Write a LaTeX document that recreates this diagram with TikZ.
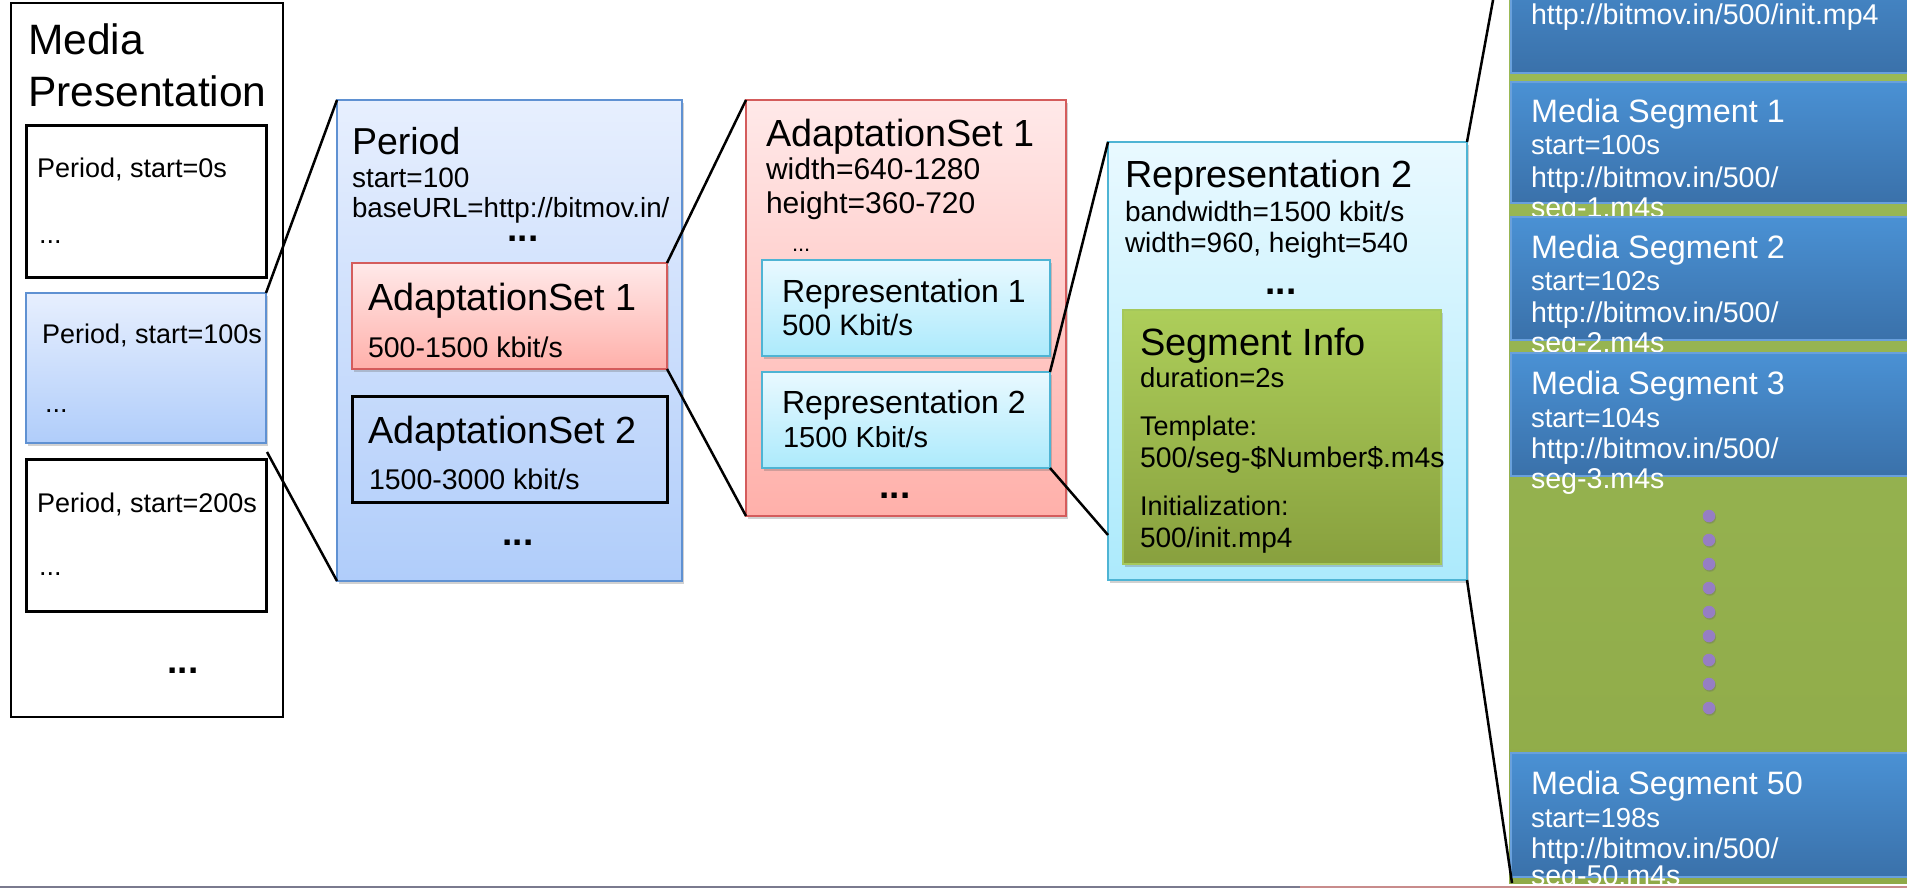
\documentclass[tikz,border=0pt]{standalone}
\usepackage{fontspec}
\setmainfont{Liberation Sans}
\usetikzlibrary{shadows,fit,calc}
\definecolor{perTop}{RGB}{231,239,254}
\definecolor{perBot}{RGB}{176,205,250}
\definecolor{perLine}{RGB}{95,145,210}
\definecolor{redTop}{RGB}{255,233,233}
\definecolor{redBot}{RGB}{255,176,170}
\definecolor{redLine}{RGB}{212,92,92}
\definecolor{cyTop}{RGB}{233,249,255}
\definecolor{cyBot}{RGB}{172,234,252}
\definecolor{cyLine}{RGB}{78,180,212}
\definecolor{siTop}{RGB}{173,206,90}
\definecolor{siBot}{RGB}{136,160,62}
\definecolor{siLine}{RGB}{165,200,90}
\definecolor{gTop}{RGB}{156,188,88}
\definecolor{gBot}{RGB}{143,170,72}
\definecolor{bTop}{RGB}{74,145,212}
\definecolor{bBot}{RGB}{58,113,170}
\definecolor{bLine}{RGB}{105,160,220}
\definecolor{dotc}{RGB}{150,126,196}
\definecolor{edgeGray}{RGB}{122,122,142}
\definecolor{edgePink}{RGB}{200,140,140}
\tikzset{
  bx/.style={inner sep=0pt, outer sep=0pt},
  shad/.style={drop shadow={shadow xshift=1.5pt, shadow yshift=-3pt, opacity=0.3, fill=black!60}},
  blackbox/.style={bx, draw=black, line width=3pt},
  perbox/.style={bx, shad, draw=perLine, line width=1.8pt, top color=perTop, bottom color=perBot},
  redbox/.style={bx, shad, draw=redLine, line width=1.8pt, top color=redTop, bottom color=redBot},
  cybox/.style={bx, shad, draw=cyLine, line width=1.8pt, top color=cyTop, bottom color=cyBot},
  sibox/.style={bx, shad, draw=siLine, line width=1.5pt, top color=siTop, bottom color=siBot},
  colbox/.style={bx, top color=gTop, bottom color=gBot},
  segbox/.style={bx, draw=bLine, line width=1.5pt, top color=bTop, bottom color=bBot},
  lbl/.style={anchor=base west, inner sep=0pt, outer sep=0pt},
  fs/.style={font=\fontsize{#1}{#1}\selectfont},
  wt/.style={text=white},
  bdots/.style={anchor=center, inner sep=0pt, font=\fontsize{37}{37}\selectfont\bfseries},
  conn/.style={draw=black, line width=2.5pt},
  dotm/.style={circle, fill=dotc, inner sep=0pt, minimum size=12.5pt, drop shadow={shadow xshift=0.8pt, shadow yshift=-1.5pt, opacity=0.35, fill=black!60}}
}
\begin{document}
\begin{tikzpicture}[x=1pt,y=-1pt]
\useasboundingbox (0,0) rectangle (1907,888);
\clip (0,0) rectangle (1907,888);

% ---------- Media Presentation ----------
\node[blackbox, line width=2.5pt, fit={(11,3) (283,717)}] (mp) {};
\node[lbl,fs=42.5] (mpt1) at (28,55) {Media};
\node[lbl,fs=42.5] (mpt2) at (28,107) {Presentation};

\node[blackbox, fit={(26,126) (266,277)}] (p0) {};
\node[lbl,fs=27] (p0t) at (37,178) {Period, start=0s};
\node[lbl,fs=27] (p0d) at (39,243) {...};

\node[perbox, fit={(26,293) (266,443)}] (p1) {};
\node[lbl,fs=27] (p1t) at (42,343) {Period, start=100s};
\node[lbl,fs=27] (p1d) at (45,412) {...};

\node[blackbox, fit={(26,459) (266,611)}] (p2) {};
\node[lbl,fs=27] (p2t) at (37,512) {Period, start=200s};
\node[lbl,fs=27] (p2d) at (39,575) {...};

\node[bdots] (mpd) at (183,671) {...};

% ---------- Period ----------
\node[perbox, line width=2pt, fit={(337,100) (682,581)}] (per) {};
\node[lbl,fs=37.5] (pert) at (352,155) {Period};
\node[lbl,fs=28] (pers) at (352,187) {start=100};
\node[lbl,fs=27.7] (perb) at (352,218) {baseURL=http://bitmov.in/};
\node[bdots] (perd1) at (523,239) {...};

\node[redbox, fit={(352,263) (667,369)}] (as1s) {};
\node[lbl,fs=37.8] (as1st) at (368,310) {AdaptationSet 1};
\node[lbl,fs=28.5] (as1sb) at (368,357) {500-1500 kbit/s};

\node[blackbox, fit={(352,396) (667,502)}] (as2s) {};
\node[lbl,fs=37.8] (as2st) at (368,443) {AdaptationSet 2};
\node[lbl,fs=28.5] (as2sb) at (369,489) {1500-3000 kbit/s};

\node[bdots] (perd2) at (518,543) {...};

% ---------- AdaptationSet 1 ----------
\node[redbox, line width=2pt, fit={(746,100) (1066,516)}] (as1) {};
\node[lbl,fs=37.8] (as1t) at (766,147) {AdaptationSet 1};
\node[lbl,fs=30] (as1w) at (766,179) {width=640-1280};
\node[lbl,fs=30] (as1h) at (766,213) {height=360-720};
\node[lbl,fs=22] (as1d) at (792,251) {...};

\node[cybox, fit={(762,260) (1050,356)}] (rep1s) {};
\node[lbl,fs=32] (rep1st) at (782,302) {Representation 1};
\node[lbl,fs=29.5] (rep1sb) at (782,335) {500 Kbit/s};

\node[cybox, fit={(762,372) (1050,468)}] (rep2s) {};
\node[lbl,fs=32] (rep2st) at (782,413) {Representation 2};
\node[lbl,fs=29] (rep2sb) at (783,447) {1500 Kbit/s};

\node[bdots] (as1d2) at (895,496) {...};

% ---------- Representation 2 ----------
\node[cybox, line width=2pt, fit={(1108,142) (1467,580)}] (rep2) {};
\node[lbl,fs=37.8] (rep2t) at (1125,188) {Representation 2};
\node[lbl,fs=28] (rep2b) at (1125,221) {bandwidth=1500 kbit/s};
\node[lbl,fs=28] (rep2w) at (1125,252) {width=960, height=540};
\node[bdots] (rep2d) at (1281,292) {...};

\node[sibox, fit={(1123,310) (1441,564)}] (si) {};
\node[lbl,fs=38] (sit) at (1140,355) {Segment Info};
\node[lbl,fs=27.5] (sid) at (1140,387) {duration=2s};
\node[lbl,fs=27] (sitp) at (1140,435) {Template:};
\node[lbl,fs=28.4] (sitv) at (1140,467) {500/seg-\$Number\$.m4s};
\node[lbl,fs=27] (siin) at (1140,515) {Initialization:};
\node[lbl,fs=28] (siiv) at (1140,547) {500/init.mp4};

% ---------- Segments column ----------
\node[colbox, fit={(1509,-87) (1925,883)}] (col) {};

\node[segbox, fit={(1511,-60) (1925,73)}] (sinit) {};
\node[lbl,fs=28.6,wt] (sinitu) at (1531,25) {http://bitmov.in/500/init.mp4};

\node[segbox, fit={(1511,82) (1925,203)}] (s1) {};
\node[lbl,fs=32.4,wt] (s1t) at (1531,123) {Media Segment 1};
\node[lbl,fs=27.5,wt] (s1s) at (1531,155) {start=100s};
\node[lbl,fs=28.6,wt] (s1u) at (1531,187) {http://bitmov.in/500/};
\node[lbl,fs=28.6,wt] (s1f) at (1531,217) {seg-1.m4s};

\node[segbox, fit={(1511,217) (1925,340)}] (s2) {};
\node[lbl,fs=32.4,wt] (s2t) at (1531,258) {Media Segment 2};
\node[lbl,fs=27.5,wt] (s2s) at (1531,290) {start=102s};
\node[lbl,fs=28.6,wt] (s2u) at (1531,322) {http://bitmov.in/500/};
\node[lbl,fs=28.6,wt] (s2f) at (1531,352) {seg-2.m4s};

\node[segbox, fit={(1511,353) (1925,476)}] (s3) {};
\node[lbl,fs=32.4,wt] (s3t) at (1531,394) {Media Segment 3};
\node[lbl,fs=27.5,wt] (s3s) at (1531,427) {start=104s};
\node[lbl,fs=28.6,wt] (s3u) at (1531,458) {http://bitmov.in/500/};
\node[lbl,fs=28.6,wt] (s3f) at (1531,488) {seg-3.m4s};

\foreach \k in {0,...,8}{
  \node[dotm] (vd\k) at (1709,{516+24*\k}) {};
}

\node[segbox, fit={(1511,753) (1925,877)}] (s50) {};
\node[lbl,fs=32.4,wt] (s50t) at (1531,794) {Media Segment 50};
\node[lbl,fs=27.5,wt] (s50s) at (1531,827) {start=198s};
\node[lbl,fs=28.6,wt] (s50u) at (1531,858) {http://bitmov.in/500/};
\node[lbl,fs=28.6,wt] (s50f) at (1531,885) {seg-50.m4s};

% ---------- connectors ----------
\coordinate (p1out) at ($(p1.south east)+(1,9)$);
\coordinate (rep2in) at (1108,535);
\draw[conn] (p1.north east) -- (per.north west);
\draw[conn] (p1out) -- (per.south west);
\draw[conn] (as1s.north east) -- (as1.north west);
\draw[conn] (as1s.south east) -- (as1.south west);
\draw[conn] (rep2s.north east) -- (rep2.north west);
\draw[conn] (rep2s.south east) -- (rep2in);
\draw[conn] (rep2.north east) -- (col.north west);
\draw[conn] (rep2.south east) -- ($(col.south west)+(3,0)$);

% bottom edge line
\draw[edgeGray, line width=1.5pt] (0,887) -- (1300,887);
\draw[edgePink, line width=1.5pt] (1300,887) -- (1907,887);
\end{tikzpicture}
\end{document}
